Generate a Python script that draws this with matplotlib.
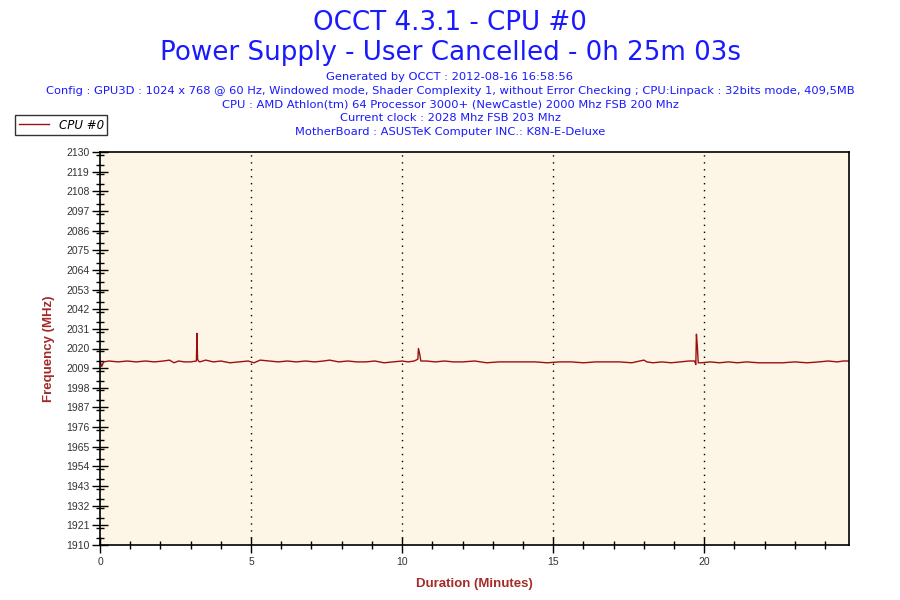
import matplotlib.pyplot as plt
from matplotlib.ticker import MultipleLocator, FixedLocator

title_lines = ["OCCT 4.3.1 - CPU #0", "Power Supply - User Cancelled - 0h 25m 03s"]
info_lines = [
    "Generated by OCCT : 2012-08-16 16:58:56",
    "Config : GPU3D : 1024 x 768 @ 60 Hz, Windowed mode, Shader Complexity 1, without Error Checking ; CPU:Linpack : 32bits mode, 409,5MB",
    "CPU : AMD Athlon(tm) 64 Processor 3000+ (NewCastle) 2000 Mhz FSB 200 Mhz",
    "Current clock : 2028 Mhz FSB 203 Mhz",
    "MotherBoard : ASUSTeK Computer INC.: K8N-E-Deluxe",
]
series_name = "CPU #0"

# minutes / MHz
minutes = [0.00, 0.06, 0.12, 0.30, 0.60, 0.90, 1.20, 1.50, 1.80, 2.10, 2.30, 2.45,
           2.60, 2.80, 3.00, 3.19, 3.21, 3.23, 3.26, 3.30, 3.50, 3.75, 4.00, 4.30,
           4.60, 4.90, 5.10, 5.30, 5.60, 5.90, 6.20, 6.50, 6.80, 7.10, 7.40, 7.60,
           7.90, 8.20, 8.50, 8.80, 9.10, 9.40, 9.70, 10.00, 10.20, 10.40, 10.52,
           10.54, 10.58, 10.62, 10.80, 11.10, 11.40, 11.70, 12.00, 12.40, 12.80,
           13.20, 13.60, 14.00, 14.40, 14.80, 15.20, 15.60, 16.00, 16.40, 16.80,
           17.20, 17.60, 18.00, 18.10, 18.30, 18.60, 18.90, 19.20, 19.50, 19.68,
           19.72, 19.74, 19.77, 19.80, 19.90, 20.20, 20.50, 20.80, 21.10, 21.40,
           21.80, 22.20, 22.60, 23.00, 23.40, 23.80, 24.10, 24.40, 24.60, 24.79]
freq_mhz = [2013.0, 2010.0, 2012.5, 2013.0, 2012.5, 2013.0, 2012.5, 2013.0, 2012.5,
            2013.0, 2013.5, 2012.0, 2013.0, 2012.5, 2012.5, 2013.0, 2028.5, 2014.0,
            2013.0, 2012.5, 2013.5, 2012.5, 2013.0, 2012.0, 2012.5, 2013.0, 2012.0,
            2013.5, 2013.0, 2012.5, 2013.0, 2012.5, 2013.0, 2012.5, 2013.0, 2013.5,
            2012.5, 2013.0, 2012.5, 2012.5, 2013.0, 2012.0, 2012.5, 2013.0, 2012.5,
            2013.0, 2014.0, 2020.0, 2017.0, 2013.0, 2013.0, 2012.5, 2013.0, 2012.5,
            2012.5, 2013.0, 2012.0, 2012.5, 2012.5, 2012.5, 2012.5, 2012.0, 2012.5,
            2012.5, 2012.0, 2012.5, 2012.5, 2012.5, 2012.0, 2013.5, 2012.5, 2012.0,
            2012.5, 2012.0, 2012.5, 2013.0, 2013.0, 2011.0, 2028.0, 2021.5, 2012.0,
            2012.0, 2012.5, 2012.0, 2012.5, 2012.0, 2012.5, 2012.0, 2012.0, 2012.0,
            2012.5, 2012.0, 2012.5, 2013.0, 2012.5, 2013.0, 2013.0]

y_min, y_max, y_step = 1910, 2130, 11
x_max = 24.79

blue = "#1a1aff"
red = "#a52a2a"
line_red = "#9a1010"

fig = plt.figure(figsize=(9, 6), dpi=100)
ax = fig.add_axes([100 / 900, 55 / 600, 749 / 900, 393 / 600])
ax.set_facecolor("#fdf6e7")

ax.plot(minutes, freq_mhz, color=line_red, lw=1.0, label=series_name)

ax.set_xlim(0, x_max)
ax.set_ylim(y_min, y_max)
ax.yaxis.set_major_locator(FixedLocator(list(range(y_min, y_max + 1, y_step))))
ax.yaxis.set_minor_locator(MultipleLocator(y_step / 2))
ax.xaxis.set_major_locator(MultipleLocator(5))
ax.xaxis.set_minor_locator(MultipleLocator(1))
ax.tick_params(which="major", direction="inout", length=11, width=1,
               labelsize=7.5, labelcolor="#333333", pad=2)
ax.tick_params(which="minor", direction="inout", length=6, width=1)
ax.tick_params(axis="x", which="major", pad=3)
for t in ax.get_xticklabels() + ax.get_yticklabels():
    t.set_fontfamily("Liberation Sans")

for x in [5, 10, 15, 20]:
    ax.axvline(x, color="black", lw=1, ls=(0, (1, 4)))

for s in ax.spines.values():
    s.set_linewidth(1.2)

ax.set_xlabel("Duration (Minutes)", color=red, fontsize=9.5, fontweight="bold",
              fontfamily="Liberation Sans", labelpad=8)
ax.set_ylabel("Frequency (MHz)", color=red, fontsize=9.5, fontweight="bold",
              fontfamily="Liberation Sans", labelpad=8)

fig.text(0.5, 1 - 23 / 600, title_lines[0], ha="center", va="center",
         color=blue, fontsize=18.8)
fig.text(0.5, 1 - 53 / 600, title_lines[1], ha="center", va="center",
         color=blue, fontsize=18.8)
for i, line in enumerate(info_lines):
    fig.text(0.5, 1 - (77 + i * 13.8) / 600, line, ha="center", va="center",
             color=blue, fontsize=8.25)

leg = fig.legend(loc="upper left", bbox_to_anchor=(15 / 900, 1 - 115 / 600),
                 frameon=True, fancybox=False, edgecolor="black",
                 prop={"style": "italic", "size": 8.5}, handlelength=2.6,
                 borderpad=0.3, borderaxespad=0)
leg.get_frame().set_linewidth(1)

fig.savefig("out.png", dpi=100)
